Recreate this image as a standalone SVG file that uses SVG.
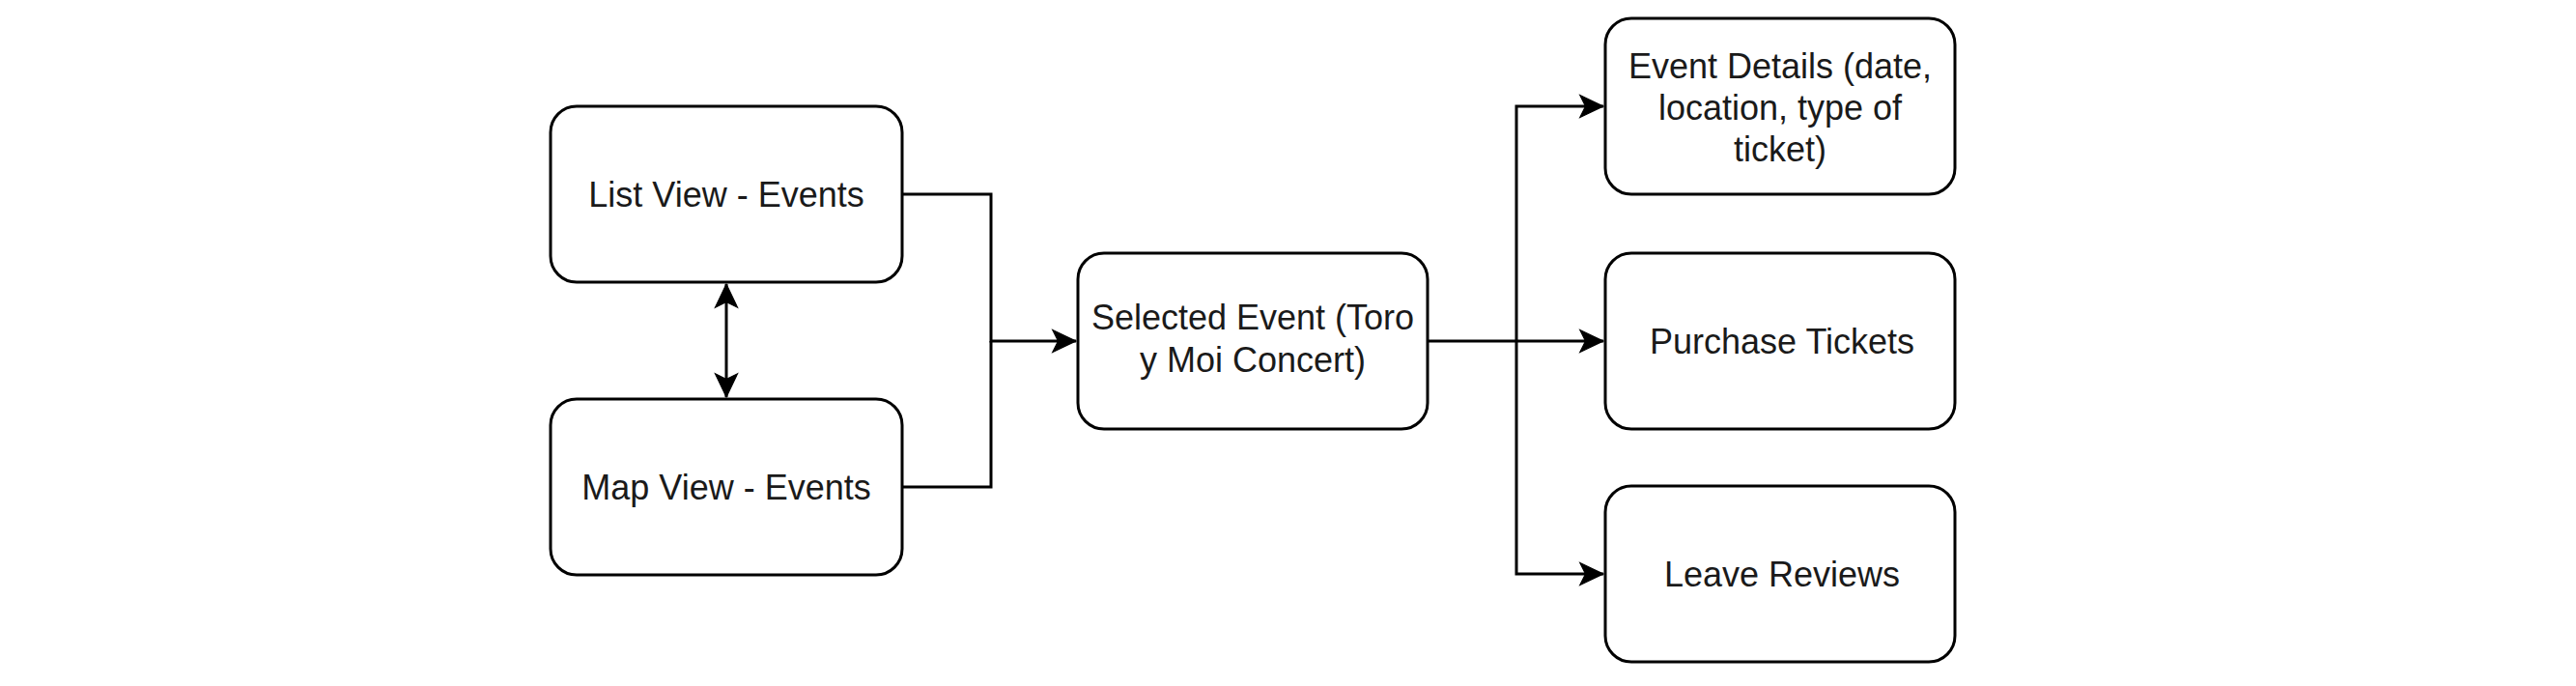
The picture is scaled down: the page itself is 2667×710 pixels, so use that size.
<svg xmlns="http://www.w3.org/2000/svg" width="2667" height="710" viewBox="0 0 2667 710">
<style>
.box{fill:#fff;stroke:#000;stroke-width:3}
.lbl{font-family:"Liberation Sans",Arial,sans-serif;font-size:36px;fill:#1a1a1a;text-anchor:middle}
.edge{fill:none;stroke:#000;stroke-width:3}
</style>
<defs>
<marker id="arr" markerUnits="userSpaceOnUse" markerWidth="30" markerHeight="30" viewBox="-24 -12 26 24" refX="0" refY="0" orient="auto-start-reverse">
<path d="M0,0 L-21,-10 L-16,0 L-21,10 Z" fill="#000" stroke="#000" stroke-width="1"/>
</marker>
</defs>
<rect width="2667" height="710" fill="#fff"/>
<g id="connectors">
<polyline class="edge" points="934,201 1026,201 1026,353 1114,353" marker-end="url(#arr)"/>
<polyline class="edge" points="934,504 1026,504 1026,353"/>
<polyline class="edge" points="1478,353 1660,353" marker-end="url(#arr)"/>
<polyline class="edge" points="1570,353 1570,110 1660,110" marker-end="url(#arr)"/>
<polyline class="edge" points="1570,353 1570,594 1660,594" marker-end="url(#arr)"/>
<line class="edge" x1="752" y1="294" x2="752" y2="411" marker-start="url(#arr)" marker-end="url(#arr)"/>
</g>
<g id="list-view">
<rect class="box" x="570" y="110" width="364" height="182" rx="27"/>
<text class="lbl" x="752" y="214">List View - Events</text>
</g>
<g id="map-view">
<rect class="box" x="570" y="413" width="364" height="182" rx="27"/>
<text class="lbl" x="752" y="517">Map View - Events</text>
</g>
<g id="selected-event">
<rect class="box" x="1116" y="262" width="362" height="182" rx="27"/>
<text class="lbl" x="1297" y="341">Selected Event (Toro</text>
<text class="lbl" x="1297" y="385">y Moi Concert)</text>
</g>
<g id="event-details">
<rect class="box" x="1662" y="19" width="362" height="182" rx="27"/>
<text class="lbl" x="1843" y="81">Event Details (date,</text>
<text class="lbl" x="1843" y="124">location, type of</text>
<text class="lbl" x="1843" y="167">ticket)</text>
</g>
<g id="purchase-tickets">
<rect class="box" x="1662" y="262" width="362" height="182" rx="27"/>
<text class="lbl" x="1845" y="366">Purchase Tickets</text>
</g>
<g id="leave-reviews">
<rect class="box" x="1662" y="503" width="362" height="182" rx="27"/>
<text class="lbl" x="1845" y="607">Leave Reviews</text>
</g>
</svg>
